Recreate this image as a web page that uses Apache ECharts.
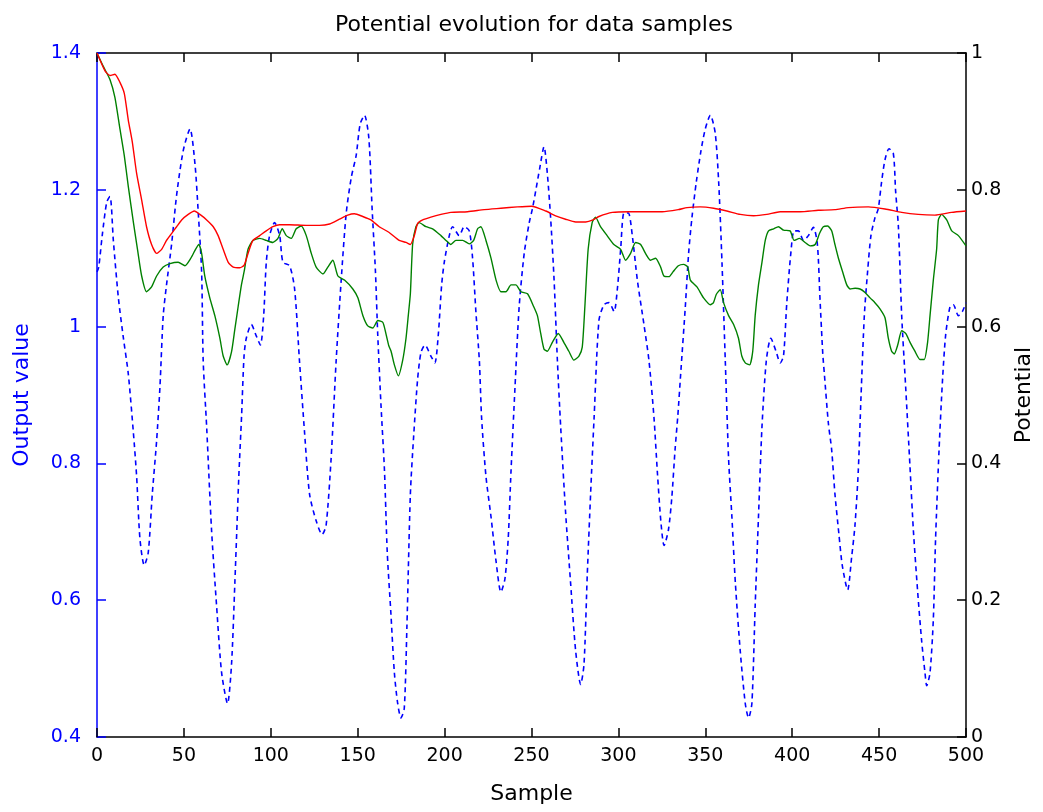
<!DOCTYPE html>
<html>
<head>
<meta charset="utf-8">
<script src="https://cdn.jsdelivr.net/npm/echarts@6/dist/echarts.min.js"></script>
<style>
html,body{margin:0;padding:0;background:#fff;}
#chart{width:1043px;height:812px;}
</style>
</head>
<body>
<div id="chart"></div>
<script>
// ---- Data ----
const titleText = "Potential evolution for data samples";
const xTicks = [0, 50, 100, 150, 200, 250, 300, 350, 400, 450, 500];
const leftTicks = [0.4, 0.6, 0.8, 1.0, 1.2, 1.4];
const rightTicks = [0, 0.2, 0.4, 0.6, 0.8, 1.0];

// Output value (blue dashed, left axis)
const outputSamples = [0,1,3,5.6,7.5,9.4,12.3,15.2,18,20.9,22.8,24.7,27.2,29.5,31.8,34.3,36.2,38.1,40,42.9,45.8,49.6,53.5,56.4,58.3,60.2,61.1,63.1,65.9,68.8,71.7,75.1,77.4,79.3,81.6,83.2,84.6,85.9,88.8,91.7,94,95.9,97.4,99.3,102.2,105.1,107,110.8,113.7,116.5,119.4,122.3,126.1,129.5,131.8,134.7,137.6,140.5,143.4,146.3,149.1,151.4,153.9,156.4,158.3,160.2,161.5,163.4,165.4,167,169,171.1,173,174.9,176.8,178.3,180.3,182.2,184.5,186.4,188.7,192.1,194.4,196.4,198.3,199.8,202.7,204.6,208.4,211.3,214.2,216.1,218,220,221.3,223.8,226.7,229.6,232.4,234.7,236.6,238.2,240.5,242.9,245.8,248.7,250.5,252.4,254.7,257.2,259.1,261,263,264.9,266.8,269.6,272.5,275.4,278.3,280.2,282.1,284,286,288.8,291.7,294.6,297.5,299.4,301.3,303.2,305.7,308,310.9,314.7,317.6,320.5,322.4,324.4,326.3,328.8,330.7,332.6,334.2,336,338.5,340.4,342.3,344.8,347.5,350,352.9,355.7,357.7,359.6,361.5,363.4,365.3,367.3,370.1,373,374.9,376.8,378.7,380.6,382.6,385.1,387.7,390.8,393.1,395,396.9,399.2,401.1,403.6,406.5,409.3,412.2,414.5,416,417.6,418.5,420.8,422.7,424.6,426.9,428.8,431.9,434.2,436.1,438,439.6,441.5,443.4,445.3,447.6,449.5,451.4,453.4,455.7,458.2,459.5,461.1,463,465.3,467.8,469.7,472.2,474.5,476.4,477.4,479.3,481.2,482.5,484.5,486.4,488.3,490.8,492.7,495.6,497.9,500];
const outputValues = [1.08,1.087,1.133,1.182,1.19,1.126,1.042,0.983,0.931,0.846,0.781,0.69,0.651,0.67,0.755,0.833,0.911,1.016,1.061,1.12,1.192,1.257,1.289,1.237,1.165,1.08,0.95,0.853,0.703,0.592,0.494,0.449,0.506,0.624,0.781,0.87,0.957,0.983,1.003,0.986,0.973,1.016,1.094,1.133,1.152,1.133,1.094,1.089,1.055,0.95,0.846,0.755,0.716,0.696,0.709,0.807,0.95,1.068,1.166,1.218,1.25,1.296,1.309,1.276,1.172,1.081,0.99,0.885,0.79,0.67,0.585,0.494,0.449,0.428,0.442,0.56,0.755,0.84,0.924,0.962,0.973,0.957,0.947,0.989,1.061,1.094,1.133,1.146,1.133,1.146,1.14,1.1,1.022,0.95,0.866,0.781,0.722,0.657,0.612,0.631,0.69,0.788,0.911,1.029,1.107,1.152,1.172,1.198,1.231,1.263,1.224,1.159,1.068,0.95,0.853,0.729,0.625,0.526,0.477,0.506,0.638,0.755,0.866,1.009,1.032,1.035,1.022,1.055,1.113,1.166,1.166,1.133,1.068,1.003,0.95,0.866,0.788,0.716,0.68,0.703,0.749,0.82,0.87,0.937,1.029,1.107,1.159,1.211,1.257,1.289,1.309,1.283,1.211,1.094,0.95,0.807,0.722,0.625,0.526,0.449,0.428,0.449,0.592,0.722,0.853,0.95,0.983,0.963,0.947,0.957,1.035,1.107,1.14,1.14,1.126,1.133,1.145,1.12,1.04,0.96,0.931,0.859,0.82,0.755,0.696,0.651,0.615,0.663,0.709,0.788,0.898,1.016,1.081,1.133,1.159,1.172,1.211,1.244,1.26,1.253,1.198,1.146,1.016,0.911,0.794,0.703,0.612,0.54,0.494,0.475,0.494,0.572,0.69,0.82,0.918,0.988,1.029,1.032,1.016,1.022,1.035];

// Potential, green (right axis)
const greenSamples = [0,3.7,7.5,10.3,13.2,15.7,18,20.9,23.3,25.7,28.5,31.4,34.3,38.1,42,46.7,50.6,54,56.7,58.6,60.2,62,64.9,67.8,70.7,72.6,74.9,77.4,79.3,81.2,83.1,84.7,86.9,89.7,93.6,97.4,101.2,104.1,106.6,108.9,111.8,114.6,117.5,120.4,123.3,126.1,130,132.8,135.7,138.6,142.4,147.2,150.1,153,155.8,158.7,161.6,164.5,166.3,167.9,169.2,171.1,173.4,175.9,177.8,179.1,180.3,181.6,183.5,185.4,189.3,193.1,197.9,200.8,203.6,206.5,210.4,214.2,216.7,219,220.9,223.8,226.7,229.6,232.4,235.3,238.2,241,243.9,247.7,251.3,253.4,255.3,257.2,259.1,262,265.4,268.6,271.5,274.4,277.3,279.2,280.7,282.6,284.9,286.8,289.7,293.5,297.4,301.3,304.1,307,309.9,312.8,315.6,318.5,321.4,324.3,326.2,329.1,331.4,334.5,337.5,339.9,341.4,345.2,349,352.9,354.7,356.3,358.6,360.5,363.4,366.3,369.1,371,373,375.5,377.3,378.7,380.6,382.6,384.5,386.4,389.3,392.1,395,398.8,401.1,404.2,407.4,410.3,413.2,415.7,417.9,420.4,422.7,424.6,426.6,428.9,431.4,433.3,436.2,439,441.9,444.8,447.6,450.5,453.4,455.3,457.2,458.7,460.7,463,465.3,467.8,470.6,473.5,476,477.9,479.3,481.2,483.1,484.1,486,488.9,491.8,495.6,500];
const greenValues = [1.0,0.98,0.961,0.935,0.889,0.85,0.805,0.753,0.713,0.674,0.651,0.658,0.674,0.687,0.692,0.694,0.689,0.7,0.713,0.72,0.707,0.674,0.642,0.616,0.583,0.557,0.544,0.563,0.596,0.629,0.661,0.681,0.713,0.726,0.729,0.726,0.723,0.729,0.743,0.733,0.729,0.743,0.747,0.733,0.707,0.687,0.677,0.687,0.697,0.674,0.668,0.655,0.642,0.616,0.601,0.598,0.609,0.606,0.589,0.572,0.564,0.544,0.528,0.551,0.583,0.616,0.648,0.72,0.746,0.752,0.746,0.743,0.733,0.726,0.72,0.726,0.726,0.721,0.726,0.743,0.746,0.726,0.7,0.668,0.651,0.651,0.661,0.661,0.651,0.648,0.629,0.616,0.59,0.567,0.564,0.577,0.59,0.577,0.564,0.551,0.557,0.57,0.629,0.713,0.752,0.76,0.746,0.733,0.72,0.713,0.697,0.707,0.723,0.72,0.707,0.697,0.7,0.687,0.674,0.673,0.68,0.689,0.691,0.687,0.668,0.658,0.642,0.632,0.635,0.647,0.654,0.635,0.616,0.603,0.583,0.557,0.547,0.544,0.564,0.616,0.661,0.694,0.726,0.74,0.743,0.746,0.741,0.74,0.726,0.729,0.723,0.718,0.72,0.736,0.746,0.747,0.74,0.72,0.7,0.681,0.661,0.655,0.656,0.655,0.65,0.642,0.635,0.626,0.613,0.583,0.564,0.56,0.573,0.594,0.59,0.577,0.564,0.552,0.552,0.577,0.616,0.668,0.713,0.756,0.764,0.756,0.74,0.733,0.718];

// Potential, red (right axis)
const redSamples = [0,4.6,7.5,10.3,13.2,15.7,18,20.3,22.8,25.7,28.5,31.4,34.3,37.2,40,42.9,45.8,48.7,52.5,56,59.2,63.1,66.9,69.7,72.6,75.5,78.4,82.2,84.7,86.9,89.7,93.6,97.4,101.2,105.1,110.8,120.4,128,133.8,139.5,144.3,148.1,152.9,157.6,162.4,167.9,173.9,177.8,180.3,182.6,184.5,187.4,192.1,197.9,203.6,213.2,222.8,232.4,241.9,250,258.2,263.9,269.6,275.4,281.2,285.4,288.8,296.5,306.1,315.6,325.2,334.4,339.5,347.1,354.8,362.4,370.1,377.8,385.4,393.1,404.6,415,424.6,432.3,443.8,453.4,463,472.5,482.1,491.7,500];
const redValues = [1.0,0.974,0.967,0.969,0.957,0.941,0.902,0.87,0.824,0.785,0.746,0.72,0.707,0.713,0.726,0.736,0.746,0.756,0.764,0.769,0.764,0.756,0.746,0.733,0.713,0.694,0.687,0.686,0.69,0.707,0.726,0.733,0.74,0.746,0.749,0.749,0.748,0.748,0.75,0.757,0.763,0.765,0.761,0.756,0.746,0.738,0.726,0.723,0.72,0.733,0.751,0.756,0.76,0.764,0.767,0.768,0.771,0.773,0.775,0.776,0.769,0.762,0.757,0.753,0.753,0.756,0.761,0.767,0.768,0.768,0.768,0.771,0.774,0.775,0.773,0.769,0.764,0.762,0.764,0.768,0.768,0.77,0.771,0.774,0.775,0.772,0.767,0.764,0.763,0.767,0.769];

const pairs = (xs, ys) => xs.map((x, i) => [x, ys[i]]);
const FONT = "DejaVu Sans";
const WORD = 22;
const NUM = 19;
const fmt = v => String(+(+v).toFixed(1));

const chart = echarts.init(document.getElementById('chart'), null, {renderer: 'canvas'});
chart.setOption({
  animation: false,
  backgroundColor: '#ffffff',
  title: {
    text: titleText, left: 529, top: 9, textAlign: 'center',
    textStyle: {fontFamily: FONT, fontSize: WORD, fontWeight: 'normal', color: '#000'}
  },
  grid: {left: 97, right: 75, top: 53, bottom: 75, containLabel: false},
  xAxis: [{
    type: 'value', min: 0, max: 500, interval: 50, position: 'bottom',
    name: 'Sample', nameLocation: 'middle', nameGap: 46,
    nameTextStyle: {fontFamily: FONT, fontSize: WORD, color: '#000'},
    axisLine: {show: true, onZero: false, lineStyle: {color: '#000', width: 1.5}},
    axisTick: {show: true, inside: true, length: 9, lineStyle: {color: '#000', width: 1.5}},
    axisLabel: {fontFamily: FONT, fontSize: NUM, color: '#000', margin: 10},
    splitLine: {show: false}
  }, {
    type: 'value', min: 0, max: 500, interval: 50, position: 'top',
    axisLine: {show: true, onZero: false, lineStyle: {color: '#000', width: 1.5}},
    axisTick: {show: true, inside: true, length: 9, lineStyle: {color: '#000', width: 1.5}},
    axisLabel: {show: false}, splitLine: {show: false}
  }],
  yAxis: [{
    type: 'value', min: 0.4, max: 1.4, interval: 0.2, position: 'left',
    name: 'Output value', nameLocation: 'middle', nameGap: 64,
    nameTextStyle: {fontFamily: FONT, fontSize: WORD, color: '#0000ff'},
    axisLine: {show: true, onZero: false, lineStyle: {color: '#0000ff', width: 1.5}},
    axisTick: {show: true, inside: true, length: 9, lineStyle: {color: '#0000ff', width: 1.5}},
    axisLabel: {fontFamily: FONT, fontSize: NUM, color: '#0000ff', margin: 16, formatter: fmt},
    splitLine: {show: false}
  }, {
    type: 'value', min: 0, max: 1, interval: 0.2, position: 'right',
    name: 'Potential', nameLocation: 'middle', nameGap: 47,
    nameTextStyle: {fontFamily: FONT, fontSize: WORD, color: '#000'},
    axisLine: {show: true, onZero: false, lineStyle: {color: '#000', width: 1.5}},
    axisTick: {show: true, inside: true, length: 9, lineStyle: {color: '#000', width: 1.5}},
    axisLabel: {fontFamily: FONT, fontSize: NUM, color: '#000', margin: 5, formatter: fmt},
    splitLine: {show: false}
  }],
  series: [{
    name: 'Output value', type: 'line', xAxisIndex: 0, yAxisIndex: 0,
    data: pairs(outputSamples, outputValues), showSymbol: false, smooth: 0.25,
    lineStyle: {color: '#0000ff', width: 1.6, type: [5, 4]}
  }, {
    name: 'Potential (green)', type: 'line', xAxisIndex: 0, yAxisIndex: 1,
    data: pairs(greenSamples, greenValues), showSymbol: false, smooth: 0.2,
    lineStyle: {color: '#008000', width: 1.4}
  }, {
    name: 'Potential (red)', type: 'line', xAxisIndex: 0, yAxisIndex: 1,
    data: pairs(redSamples, redValues), showSymbol: false, smooth: 0.2,
    lineStyle: {color: '#ff0000', width: 1.4}
  }]
});
</script>
</body>
</html>
